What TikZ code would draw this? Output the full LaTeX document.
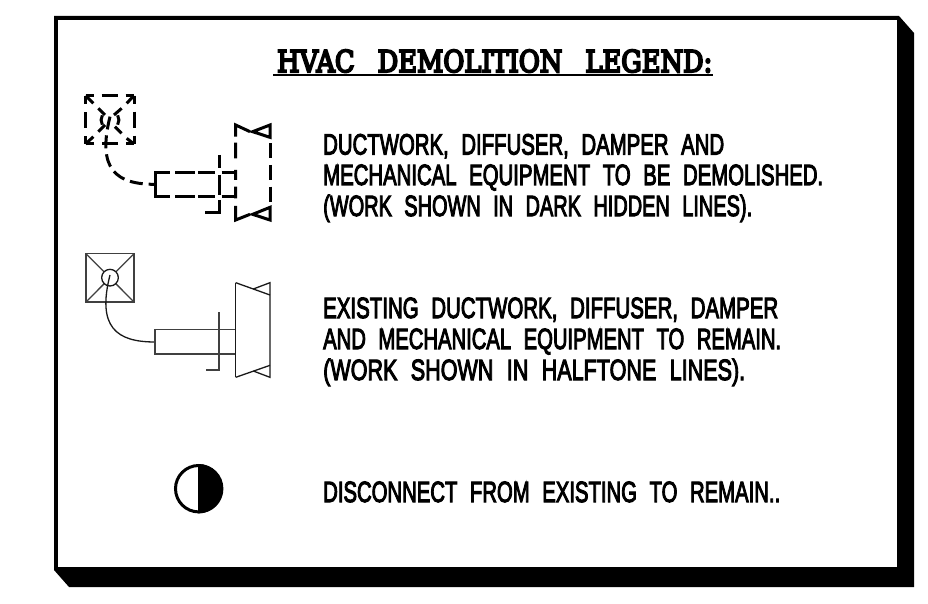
\documentclass[tikz,border=0pt]{standalone}
\usepackage{fontspec}
\usepackage{graphicx}
\setmainfont{Liberation Sans}
\newfontfamily\titlefont{DejaVu Serif}[FakeBold=7]
\newfontfamily\legendfont{Liberation Sans}[FakeBold=4]
\newcommand{\capline}[5]{% name, left x, baseline y, width, text
  \node[anchor=base west,inner sep=0pt] (#1) at (#2,#3) {\resizebox{#4pt}{\height}{\fontsize{29.3}{30}\legendfont\spaceskip=0.62em\relax #5}};}
\tikzset{
  dark/.style={line width=3pt,black},
  darkdash/.style={dark,dash pattern=on 16pt off 8pt,dash phase=8pt},
  half/.style={line width=1.3pt,black!75},
  halfb/.style={line width=1.3pt,black!90},
}
\begin{document}
\begin{tikzpicture}[x=1pt,y=-1pt]
\useasboundingbox (0,0) rectangle (928,604);
\fill[white] (0,0) rectangle (928,604);
% frame and shadow
\fill[black] (54,16) -- (899,16) -- (914,33) -- (914,587) -- (69,587) -- (54,570) -- cycle;
\fill[white] (58,20.5) rectangle (897,567);
% title
\node[anchor=base west,inner sep=0pt] (title) at (277,72) {\resizebox{435pt}{\height}{\fontsize{30}{32}\titlefont\spaceskip=0.9em\relax HVAC DEMOLITION LEGEND:}};
\fill[black] (273,74) rectangle (713,76.5);
% text
\capline{a}{323}{154.5}{401}{DUCTWORK, DIFFUSER, DAMPER AND}
\capline{b}{323}{185}{500}{MECHANICAL EQUIPMENT TO BE DEMOLISHED.}
\capline{c}{323}{216}{429}{(WORK SHOWN IN DARK HIDDEN LINES).}
\capline{d}{323}{318}{455}{EXISTING DUCTWORK, DIFFUSER, DAMPER}
\capline{e}{323}{349}{458}{AND MECHANICAL EQUIPMENT TO REMAIN.}
\capline{f}{323}{380}{422}{(WORK SHOWN IN HALFTONE LINES).}
\capline{g}{323}{502}{457}{DISCONNECT FROM EXISTING TO REMAIN..}
% dashed symbol (coordinates in 3x crop units)
\begin{scope}[shift={(70,80)},scale=0.33333]
\draw[darkdash] (47,47) -- (192,47);
\draw[darkdash] (192,47) -- (192,192);
\draw[darkdash] (192,192) -- (47,192);
\draw[darkdash] (47,192) -- (47,47);
\draw[dark] (47,47) -- (70,70) (85,85) -- (105,105);
\draw[dark] (192,47) -- (170,70) (155,85) -- (132,105);
\draw[dark] (47,192) -- (70,170) (85,155) -- (105,135);
\draw[dark] (192,192) -- (170,175) (155,160) -- (135,140);
\draw[dark] (97,134) arc[start angle=150,end angle=210,radius=28];
\draw[dark] (143,134) arc[start angle=30,end angle=-30,radius=28];
\draw[dark,dash pattern=on 13pt off 6pt] (120,110) .. controls (80,270) and (140,313) .. (255,313);
\draw[dark] (255,313) -- (255,277) -- (300,277) (315,277) -- (375,277) (385,277) -- (435,277) (455,277) -- (495,277);
\draw[dark] (255,313) -- (255,350) -- (300,350) (315,350) -- (375,350) (385,350) -- (435,350) (455,350) -- (495,350);
\draw[dark] (447,225) -- (447,265) (447,285) -- (447,345) (447,360) -- (447,397) -- (405,397);
\draw[dark] (497,170) -- (497,135) -- (540,155);
\draw[dark] (497,188) -- (497,235) (497,270) -- (497,300) (497,320) -- (497,355) (497,378) -- (497,420) -- (540,403);
\draw[dark] (600,172) -- (600,135) -- (548,155) -- cycle;
\draw[dark] (600,382) -- (600,420) -- (548,403) -- cycle;
\draw[dark] (600,190) -- (600,235) (600,255) -- (600,300) (600,320) -- (600,365);
\end{scope}
% solid symbol
\begin{scope}[shift={(70,240)},scale=0.33333]
\draw[half] (48,41) rectangle (192,186);
\draw[half] (48,41) -- (192,186);
\draw[half] (192,41) -- (48,186);
\fill[white] (120,113) circle (25);
\draw[halfb] (120,113) circle (25);
\draw[halfb] (120,105) .. controls (80,262) and (140,306) .. (255,306);
\draw[half] (497,269) -- (255,269) -- (255,342) -- (497,342);
\draw[half] (447,217) -- (447,390) -- (407,390);
\draw[halfb] (497,128) -- (600,165);
\draw[halfb] (550,147) -- (600,128) -- (600,412) -- (550,393);
\draw[halfb] (497,412) -- (600,376);
\draw[halfb] (497,128) -- (497,412);
\end{scope}
% half-filled circle
\draw[line width=3pt] (198.7,488.7) circle (23.2);
\fill[black] (198,464) arc[start angle=-90,end angle=90,radius=24.7] -- cycle;
\end{tikzpicture}
\end{document}
